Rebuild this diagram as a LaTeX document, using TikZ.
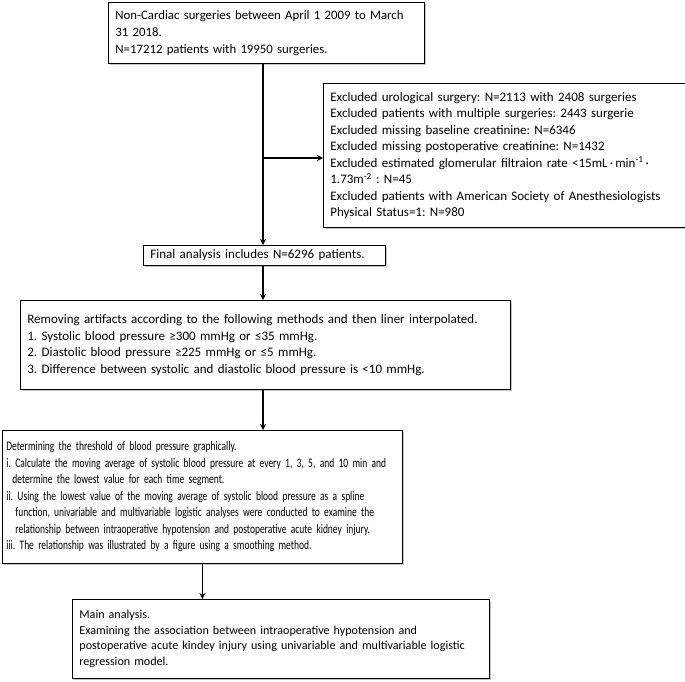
\documentclass[tikz,border=0pt]{standalone}
\usepackage{fontspec}
\setmainfont{Carlito}
\newfontfamily\narrowfont{Carlito}[FakeStretch=0.73]
\usetikzlibrary{arrows.meta,shadows}
\frenchspacing

\begin{document}
\begin{tikzpicture}[x=1pt, y=-1pt,
    stage/.style={draw, line width=0.8pt, fill=white, anchor=north west, align=left,
        inner xsep=7pt, font=\fontsize{13}{16.5}\selectfont,
        drop shadow={shadow xshift=1.2pt, shadow yshift=-1.2pt, fill=black!45}},
    flow/.style={-{Stealth[length=6pt, width=6pt]}, line width=1.3pt}]
    \useasboundingbox (0,0) rectangle (685,682);

    % Cohort and exclusions
    \node[stage, minimum width=314, minimum height=61, text width=302,
        font=\fontsize{12.8}{17}\selectfont] (total) at (108,2)
        {Non-Cardiac surgeries between April 1 2009 to March\\
         31 2018.\\
         N=17212 patients with 19950 surgeries.};

    \node[stage, minimum width=360, minimum height=144, text width=350] (excl) at (323,83)
        {Excluded urological surgery: N=2113 with 2408 surgeries\\
         Excluded patients with multiple surgeries: 2443 surgerie\\
         Excluded missing baseline creatinine: N=6346\\
         Excluded missing postoperative creatinine: N=1432\\
         Excluded estimated glomerular filtraion rate <15mL\,·\,min\textsuperscript{-1}\,·\\
         1.73m\textsuperscript{-2} : N=45\\
         Excluded patients with American Society of Anesthesiologists\\
         Physical Status=1: N=980};

    \node[stage, minimum width=239, minimum height=20, text width=228, inner ysep=1pt] (final) at (143,245)
        {Final analysis includes N=6296 patients.};

    % Processing steps
    \node[stage, minimum width=488, minimum height=89, text width=476] (clean) at (20,300)
        {Removing artifacts according to the following methods and then liner interpolated.\\
         1. Systolic blood pressure ≥300 mmHg or ≤35 mmHg.\\
         2. Diastolic blood pressure ≥225 mmHg or ≤5 mmHg.\\
         3. Difference between systolic and diastolic blood pressure is <10 mmHg.\par\vspace*{10pt}};

    \node[stage, minimum width=398, minimum height=133, text width=392, inner xsep=4pt,
        font=\narrowfont\fontsize{13}{16.5}\selectfont] (thresh) at (2,430)
        {Determining the threshold of blood pressure graphically.\\
         i. Calculate the moving average of systolic blood pressure at every 1, 3, 5, and 10 min and\\
         \hspace*{6pt}determine the lowest value for each time segment.\\
         ii. Using the lowest value of the moving average of systolic blood pressure as a spline\\
         \hspace*{9pt}function, univariable and multivariable logistic analyses were conducted to examine the\\
         \hspace*{9pt}relationship between intraoperative hypotension and postoperative acute kidney injury.\\
         iii. The relationship was illustrated by a figure using a smoothing method.\par\vspace*{6pt}};

    \node[stage, minimum width=413, minimum height=79, text width=403,
        font=\fontsize{12.1}{15.5}\selectfont] (main) at (72,599)
        {Main analysis.\\
         Examining the association between intraoperative hypotension and\\
         postoperative acute kindey injury using univariable and multivariable logistic\\
         regression model.};

    % Arrows
    \coordinate (split) at (263,158);
    \draw[flow] (split |- total.south) -- (split |- final.north);
    \draw[flow] (split) -- (split -| excl.west);
    \draw[flow] (split |- final.south) -- (split |- clean.north);
    \draw[flow] (split |- clean.south) -- (split |- thresh.north);
    \draw[flow] (thresh.south) -- (thresh.south |- main.north);
\end{tikzpicture}
\end{document}
